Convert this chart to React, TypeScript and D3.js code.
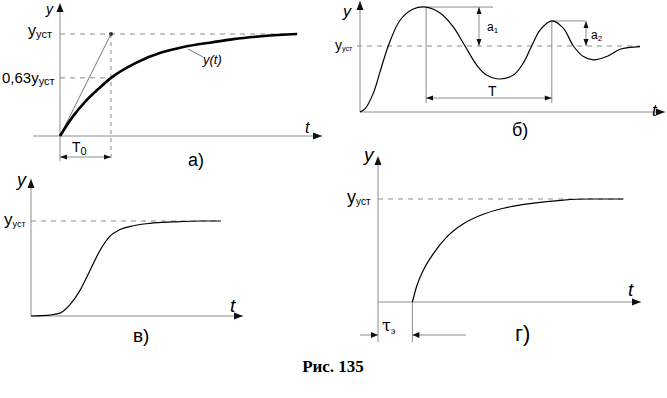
import * as d3 from 'd3';

// а) aperiodic response, t in units of T0, y in units of y_уст
const curveA_t = [0, 0.25, 0.5, 0.75, 1, 1.5, 2, 2.4, 3, 3.4, 4, 4.65];
const curveA_y = [0, 0.19, 0.34, 0.46, 0.57, 0.72, 0.82, 0.87, 0.92, 0.95, 0.98, 1.0];
const levelA = 0.57; // drawn position of the 0,63 y_уст level
const tEndA = 4.65;

// б) oscillating response
const curveB_t = [0, 0.2, 0.48, 0.71, 1.01, 1.43, 1.9, 2.36, 2.86, 3.33, 3.75, 4.17, 4.52, 5.0, 5.48, 5.83, 6.13, 6.43, 6.85, 7.26, 7.62, 7.98, 8.33, 8.81, 9.29, 10.0];
const curveB_y = [0, 0.06, 0.29, 0.6, 1.0, 1.39, 1.56, 1.59, 1.5, 1.29, 1.0, 0.71, 0.56, 0.5, 0.56, 0.74, 1.0, 1.24, 1.38, 1.27, 1.0, 0.84, 0.79, 0.84, 0.95, 0.99];

// в) s-shaped response
const curveC_t = [0, 0.95, 1.45, 1.95, 2.45, 2.95, 3.45, 3.95, 4.45, 5.12, 5.95, 7.12, 8.5, 9.5];
const curveC_y = [0, 0.01, 0.03, 0.12, 0.27, 0.48, 0.69, 0.84, 0.91, 0.95, 0.975, 0.99, 1.0, 1.0];

// г) response with dead time τэ
const curveD_t = [1.72, 1.93, 2.27, 2.77, 3.43, 4.27, 5.1, 6.27, 7.6, 8.43, 9.27, 10.5, 12.27];
const curveD_y = [0, 0.15, 0.31, 0.47, 0.63, 0.76, 0.84, 0.91, 0.955, 0.975, 0.99, 1.0, 1.0];
const tauD = 1.72;

const grey = '#8c8c8c';
const sans = 'Arial, "Liberation Sans", sans-serif';

function zip(ts: number[], ys: number[]) {
  return ts.map((t, i) => [t, ys[i]] as [number, number]);
}

// filled arrow head with its tip at (x, y), pointing away from (fx, fy)
function Head({ x, y, fx, fy, len = 9, half = 3.5 }: any) {
  const a = Math.atan2(y - fy, x - fx);
  const bx = x - len * Math.cos(a), by = y - len * Math.sin(a);
  const nx = -Math.sin(a) * half, ny = Math.cos(a) * half;
  return <path d={`M${x},${y}L${bx + nx},${by + ny}L${bx - nx},${by - ny}Z`} fill="#111" />;
}

function Arrow({ x1, y1, x2, y2, both, len, half, color = grey }: any) {
  return (
    <g>
      <line x1={x1} y1={y1} x2={x2} y2={y2} stroke={color} />
      <Head x={x2} y={y2} fx={x1} fy={y1} len={len} half={half} />
      {both && <Head x={x1} y={y1} fx={x2} fy={y2} len={len} half={half} />}
    </g>
  );
}

function Label({ x, y, main, sub, size, subSize, italic, dy = 3 }: any) {
  return (
    <text x={x} y={y} fontFamily={sans} fontSize={size} fill="#000" fontStyle={italic ? 'italic' : 'normal'}>
      {main}
      {sub && <tspan fontSize={subSize} dy={dy}>{sub}</tspan>}
    </text>
  );
}

export default function App() {
  // scales per panel
  const xA = d3.scaleLinear().domain([0, 1]).range([60, 111]);
  const yA = d3.scaleLinear().domain([0, 1]).range([136, 34]);
  const xB = d3.scaleLinear().domain([0, 10]).range([360, 640]);
  const yB = d3.scaleLinear().domain([0, 1]).range([112, 46]);
  const xC = d3.scaleLinear().domain([0, 1]).range([31, 51]);
  const yC = d3.scaleLinear().domain([0, 1]).range([316, 221]);
  const xD = d3.scaleLinear().domain([0, 1]).range([378, 398]);
  const yD = d3.scaleLinear().domain([0, 1]).range([302, 199]);

  const mk = (xs: any, ys: any) =>
    d3.line<[number, number]>().x(d => xs(d[0])).y(d => ys(d[1])).curve(d3.curveMonotoneX);

  const pathA = mk(xA, yA)(zip(curveA_t, curveA_y)) || '';
  const pathB = d3.line<[number, number]>().x(d => xB(d[0])).y(d => yB(d[1])).curve(d3.curveCatmullRom.alpha(0.5))(zip(curveB_t, curveB_y)) || '';
  const pathC = mk(xC, yC)(zip(curveC_t, curveC_y)) || '';
  const pathD = mk(xD, yD)(zip(curveD_t, curveD_y)) || '';

  // peaks of б)
  const peak1 = 7, peak2 = 18;
  const p1x = xB(curveB_t[peak1]), p1y = yB(curveB_y[peak1]);
  const p2x = xB(curveB_t[peak2]), p2y = yB(curveB_y[peak2]);

  const dash = '5,5';

  return (
    <div>
      <style>{'body{margin:0}'}</style>
      <svg width={667} height={398} style={{ display: 'block', background: '#fff' }}>
        {/* ---------- а) ---------- */}
        <g>
          <line x1={60} y1={161} x2={60} y2={12} stroke={grey} />
          <Head x={60} y={3} fx={60} fy={100} />
          <Arrow x1={33} y1={yA(0)} x2={322} y2={yA(0)} />
          <line x1={xA(0)} y1={yA(1)} x2={xA(tEndA)} y2={yA(1)} stroke={grey} strokeDasharray={dash} />
          <line x1={xA(0)} y1={yA(levelA)} x2={xA(1)} y2={yA(levelA)} stroke={grey} strokeDasharray={dash} />
          <line x1={xA(1)} y1={yA(1)} x2={xA(1)} y2={161} stroke={grey} strokeDasharray="4,4" />
          <line x1={xA(0)} y1={yA(0)} x2={xA(1)} y2={yA(1)} stroke="#777" strokeWidth={1} />
          <path d={pathA} fill="none" stroke="#000" strokeWidth={2.6} />
          <circle cx={xA(1)} cy={yA(1)} r={2} fill="#333" />
          <Arrow x1={xA(0)} y1={157} x2={xA(1)} y2={157} both len={7} half={2.5} />
          <line x1={188} y1={49} x2={203} y2={57} stroke="#777" />
          <Label x={203} y={64} main="y(t)" size={13} italic />
          <Label x={46} y={14} main="y" size={14} italic />
          <Label x={305} y={133} main="t" size={16} italic />
          <Label x={28} y={36} main="y" sub="уст" size={16} subSize={11} dy={2} />
          <Label x={2} y={83} main="0,63y" sub="уст" size={15} subSize={11} dy={2} />
          <Label x={72} y={152} main="T" sub="0" size={14} subSize={11} dy={3} />
          <Label x={188} y={166} main="а)" size={18} />
        </g>

        {/* ---------- б) ---------- */}
        <g>
          <Arrow x1={360} y1={yB(0)} x2={360} y2={1} />
          <Arrow x1={360} y1={yB(0)} x2={665} y2={yB(0)} />
          <line x1={357} y1={yB(1)} x2={xB(10)} y2={yB(1)} stroke={grey} strokeDasharray={dash} />
          <line x1={p1x} y1={p1y} x2={493} y2={p1y} stroke={grey} />
          <line x1={p2x} y1={p2y} x2={585} y2={p2y} stroke={grey} />
          <line x1={p1x} y1={p1y} x2={p1x} y2={103} stroke={grey} />
          <line x1={p2x} y1={p2y} x2={p2x} y2={103} stroke={grey} />
          <Arrow x1={479} y1={p1y} x2={479} y2={yB(1)} both len={7} half={2.5} />
          <Arrow x1={586} y1={p2y} x2={586} y2={yB(1)} both len={7} half={2.5} />
          <Arrow x1={p1x} y1={98} x2={p2x} y2={98} both len={7} half={2.5} />
          <path d={pathB} fill="none" stroke="#000" strokeWidth={1.2} />
          <Label x={343} y={17} main="y" size={16} italic />
          <Label x={335} y={50} main="y" sub="уст" size={14} subSize={7} dy={1} />
          <Label x={487} y={31} main="a" sub="1" size={12} subSize={8} dy={2} />
          <Label x={591} y={39} main="a" sub="2" size={12} subSize={8} dy={2} />
          <Label x={488} y={96} main="T" size={14} />
          <Label x={652} y={116} main="t" size={17} italic />
          <Label x={512} y={136} main="б)" size={18} />
        </g>

        {/* ---------- в) ---------- */}
        <g>
          <Arrow x1={xC(0)} y1={yC(0)} x2={xC(0)} y2={179} />
          <Arrow x1={xC(0)} y1={yC(0)} x2={243} y2={yC(0)} />
          <line x1={xC(0)} y1={yC(1)} x2={xC(9.5)} y2={yC(1)} stroke={grey} strokeDasharray={dash} />
          <path d={pathC} fill="none" stroke="#000" strokeWidth={1.2} />
          <Label x={17} y={186} main="y" size={18} italic />
          <Label x={4} y={225} main="y" sub="уст" size={17} subSize={9} dy={2} />
          <Label x={230} y={312} main="t" size={19} italic />
          <Label x={133} y={342} main="в)" size={19} />
        </g>

        {/* ---------- г) ---------- */}
        <g>
          <line x1={xD(0)} y1={342} x2={xD(0)} y2={165} stroke={grey} />
          <Head x={xD(0)} y={156} fx={xD(0)} fy={300} />
          <Arrow x1={xD(0)} y1={yD(0)} x2={641} y2={yD(0)} />
          <line x1={xD(0)} y1={yD(1)} x2={xD(12.27)} y2={yD(1)} stroke={grey} strokeDasharray={dash} />
          <line x1={xD(tauD)} y1={yD(0)} x2={xD(tauD)} y2={342} stroke={grey} />
          <Arrow x1={360} y1={335} x2={xD(0)} y2={335} len={7} half={3} />
          <Arrow x1={466} y1={335} x2={xD(tauD)} y2={335} len={7} half={3} />
          <path d={pathD} fill="none" stroke="#000" strokeWidth={1.2} />
          <Label x={364} y={161} main="y" size={19} italic />
          <Label x={347} y={203} main="y" sub="уст" size={18} subSize={10} dy={2} />
          <text x={382} y={331} fontFamily='"DejaVu Serif", serif' fontSize={16}>
            τ<tspan fontSize={9} dy={3} fontFamily={sans}>э</tspan>
          </text>
          <Label x={628} y={296} main="t" size={19} italic />
          <Label x={515} y={341} main="г)" size={22} />
        </g>

        <text x={333} y={372} textAnchor="middle" fontFamily='"Liberation Serif", "Times New Roman", serif' fontWeight="bold" fontSize={17}>
          Рис. 135
        </text>
      </svg>
    </div>
  );
}
